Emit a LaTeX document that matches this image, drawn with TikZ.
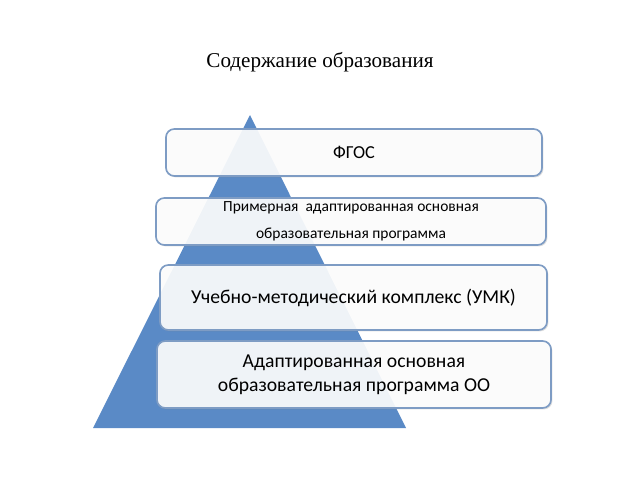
\documentclass[tikz,border=0pt]{standalone}
\usepackage{fontspec}
\setmainfont{Liberation Serif}
\newfontfamily\boxfont{Carlito}
\usetikzlibrary{shadows}
\definecolor{pyrblue}{HTML}{5A8AC6}
\definecolor{boxline}{HTML}{7E9CC4}
\tikzset{level/.style={draw=boxline, line width=1.2pt, rounded corners=6pt, fill=white, fill opacity=0.9, text opacity=1, drop shadow={opacity=0.25, shadow xshift=1pt, shadow yshift=-1pt}, font=\boxfont, align=center, inner sep=0pt}}

\begin{document}
\begin{tikzpicture}[x=0.025cm, y=-0.025cm]
        \useasboundingbox (0,0) rectangle (640,480);
        \node[font=\fontsize{15}{18}\selectfont] (title) at (320,62) {Содержание образования};
        % pyramid
        \coordinate (apex) at (250,115);
        \coordinate (bl) at (93,428);
        \coordinate (br) at (406,428);
        \fill[pyrblue] (apex) -- (bl) -- (br) -- cycle;
        % levels
        \node[level, minimum width=9.4cm, minimum height=1.175cm, font=\boxfont\fontsize{13}{16}\selectfont] (fgos) at (354,152.5) {ФГОС};
        \node[level, minimum width=9.75cm, minimum height=1.175cm, font=\boxfont\fontsize{11}{19}\selectfont] (paop) at (351,221.5) {Примерная~ адаптированная основная\\образовательная программа};
        \node[level, minimum width=9.675cm, minimum height=1.625cm, font=\boxfont\fontsize{14}{17}\selectfont] (umk) at (353.5,297.5) {Учебно-методический комплекс (УМК)};
        \node[level, minimum width=9.85cm, minimum height=1.675cm, font=\boxfont\fontsize{14}{17}\selectfont] (aoop) at (354,374.5) {Адаптированная основная\\образовательная программа ОО};
    \end{tikzpicture}
\end{document}
